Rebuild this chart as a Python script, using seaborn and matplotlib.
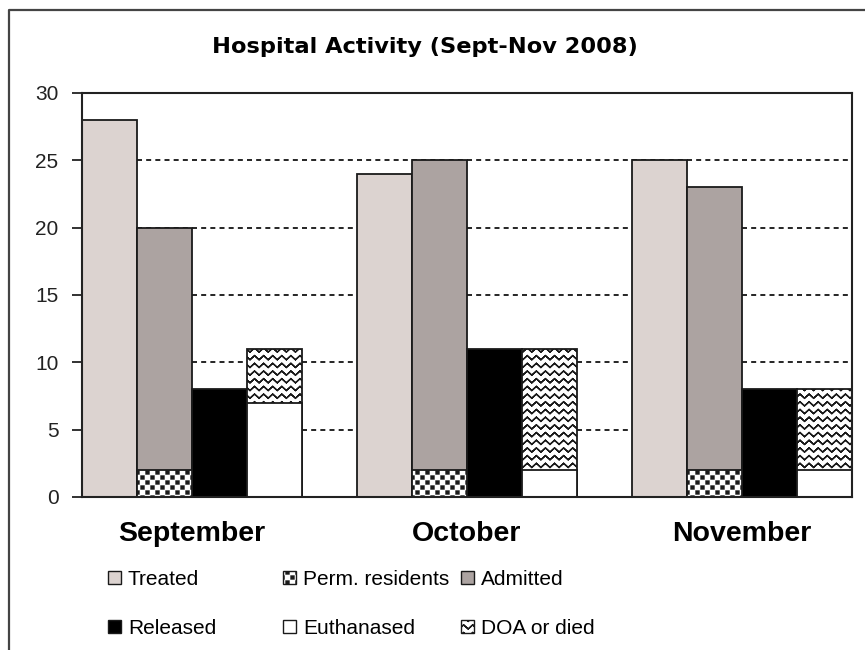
import numpy as np
import pandas as pd
import matplotlib
matplotlib.use("Agg")
import matplotlib.pyplot as plt
import matplotlib.hatch as mhatch
from matplotlib.patches import Patch
from matplotlib.lines import Line2D
from matplotlib.path import Path
import seaborn as sns

# ---------------- data ----------------
months = ["September", "October", "November"]
treated = [28, 24, 25]
perm_residents = [2, 2, 2]
admitted = [18, 23, 21]
released = [8, 11, 8]
euthanased = [7, 2, 2]
doa_or_died = [4, 9, 6]
y_ticks = [0, 5, 10, 15, 20, 25, 30]
title = "Hospital Activity (Sept-Nov 2008)"


# ---------------- custom hatches (Excel-like patterns) ----------------
class ZigZagHatch(mhatch.HatchPatternBase):
    """Horizontal zig-zag lines, triggered by '*'."""
    def __init__(self, hatch, density):
        n = hatch.count("*")
        self.rows = 13 * n
        self.teeth = 11
        per_row = 4 * self.teeth + 1 if n else 0
        self.num_vertices = self.rows * per_row

    def set_vertices_and_codes(self, vertices, codes):
        t = self.teeth
        xs = np.linspace(0, 1, 2 * t + 1)
        amp = 0.27 / self.rows
        sign = np.where(np.arange(2 * t + 1) % 2 == 0, 1.0, -1.0)
        idx = 0
        for i in range(self.rows):
            y0 = (i + 0.5) / self.rows
            ys = y0 + amp * sign
            fx = np.concatenate([xs, xs[-2::-1]])
            fy = np.concatenate([ys, ys[-2::-1]])
            m = len(fx)
            vertices[idx:idx + m, 0] = fx
            vertices[idx:idx + m, 1] = fy
            codes[idx] = Path.MOVETO
            codes[idx + 1:idx + m] = Path.LINETO
            idx += m


class CheckerSquares(mhatch.HatchPatternBase):
    """Staggered small filled squares, triggered by '.'."""
    def __init__(self, hatch, density):
        c = hatch.count(".")
        self.n = 10 * c
        self.num_vertices = (2 * self.n) * self.n * 5 if c else 0

    def set_vertices_and_codes(self, vertices, codes):
        n = self.n
        off = 1.0 / n
        h = 0.15 * off
        sq = np.array([[-h, -h], [h, -h], [h, h], [-h, h], [-h, -h]])
        sc = [Path.MOVETO, Path.LINETO, Path.LINETO, Path.LINETO, Path.CLOSEPOLY]
        idx = 0
        for j in range(2 * n):
            y = (j + 0.5) * off / 2
            for k in range(n):
                x = (k + 0.25 + 0.5 * (j % 2)) * off
                vertices[idx:idx + 5] = sq + [x, y]
                codes[idx:idx + 5] = sc
                idx += 5


mhatch._hatch_types = [ZigZagHatch, CheckerSquares] + [
    h for h in mhatch._hatch_types
    if h not in (mhatch.Stars, mhatch.SmallFilledCircles)
]

# ---------------- style ----------------
plt.rcParams["font.family"] = ["Liberation Sans", "DejaVu Sans"]
plt.rcParams["hatch.linewidth"] = 1.0
plt.rcParams["hatch.color"] = "black"

c_treated = "#DCD3D0"
c_admitted = "#ACA3A1"
edge = "#1a1a1a"

slots = ["Treated", "Admitted", "Released", "DOA or died"]

fig = plt.figure(figsize=(8.65, 6.5), dpi=100)
ax = fig.add_axes([82 / 865, 1 - 497 / 650, (852 - 82) / 865, (497 - 93) / 650])

# full-height bars per slot
full_values = {
    "Treated": treated,
    "Admitted": [p + a for p, a in zip(perm_residents, admitted)],
    "Released": released,
    "DOA or died": [e + d for e, d in zip(euthanased, doa_or_died)],
}
full_style = {
    "Treated": (c_treated, None),
    "Admitted": (c_admitted, None),
    "Released": ("black", None),
    "DOA or died": ("white", "*"),
}
# bottom segments overlayed
base_values = {"Admitted": perm_residents, "DOA or died": euthanased}
base_style = {"Admitted": ("white", "."), "DOA or died": ("white", None)}


def draw(values, styles):
    for s, vals in values.items():
        df = pd.DataFrame({"month": months, "slot": [s] * len(months), "value": vals})
        color, hatch = styles[s]
        before = set(ax.patches)
        sns.barplot(data=df, x="month", y="value", hue="slot", hue_order=slots,
                    order=months, palette={k: color for k in slots}, dodge=True,
                    errorbar=None, width=0.8, legend=False, ax=ax,
                    edgecolor=edge, linewidth=1.3, saturation=1)
        for p in ax.patches:
            if p not in before:
                p.set_hatch(hatch)
                p.set_facecolor(color)
                p.set_edgecolor(edge)


draw(full_values, full_style)
draw(base_values, base_style)

ax.set_xlim(-0.4, 2.4)
ax.set_ylim(0, 30)
ax.set_yticks(y_ticks)
ax.set_xlabel("")
ax.set_ylabel("")
ax.set_axisbelow(True)
ax.yaxis.grid(True, linestyle=(0, (3, 2.5)), color="black", linewidth=1.2)
ax.xaxis.grid(False)
for sp in ax.spines.values():
    sp.set_visible(True)
    sp.set_color("#222222")
    sp.set_linewidth(1.5)
ax.tick_params(axis="y", length=7, width=1.3, pad=10, labelsize=15, colors="#222222")
ax.tick_params(axis="x", length=0, pad=17, labelsize=20.5)
for lab in ax.get_xticklabels():
    lab.set_fontweight("bold")

# title
fig.text(425 / 865, 1 - 47 / 650, title, ha="center", va="center",
         fontsize=16.2, fontweight="bold", family=["DejaVu Sans"])

# outer chart frame (left and top edges)
fig.add_artist(Line2D([9 / 865, 9 / 865, 1.0], [0, 1 - 10 / 650, 1 - 10 / 650],
                      transform=fig.transFigure, color="#444444", linewidth=1.6))

# legend (3 columns x 2 rows)
def ph(fc, hatch=None):
    return Patch(facecolor=fc, edgecolor=edge, hatch=hatch, linewidth=1.0)

legend_cols = [
    ([ph(c_treated), ph("black")], ["Treated", "Released"], 108),
    ([ph("white", "."), ph("white")], ["Perm. residents", "Euthanased"], 283),
    ([ph(c_admitted), ph("white", "*")], ["Admitted", "DOA or died"], 461),
]
for handles, labels, x in legend_cols:
    fig.legend(handles, labels, loc="upper left",
               bbox_to_anchor=(x / 865, 1 - 570 / 650), frameon=False,
               borderpad=0, borderaxespad=0, handlelength=0.6, handleheight=0.6,
               handletextpad=0.35, labelspacing=1.45, fontsize=15)

fig.savefig("out.png", dpi=100)
